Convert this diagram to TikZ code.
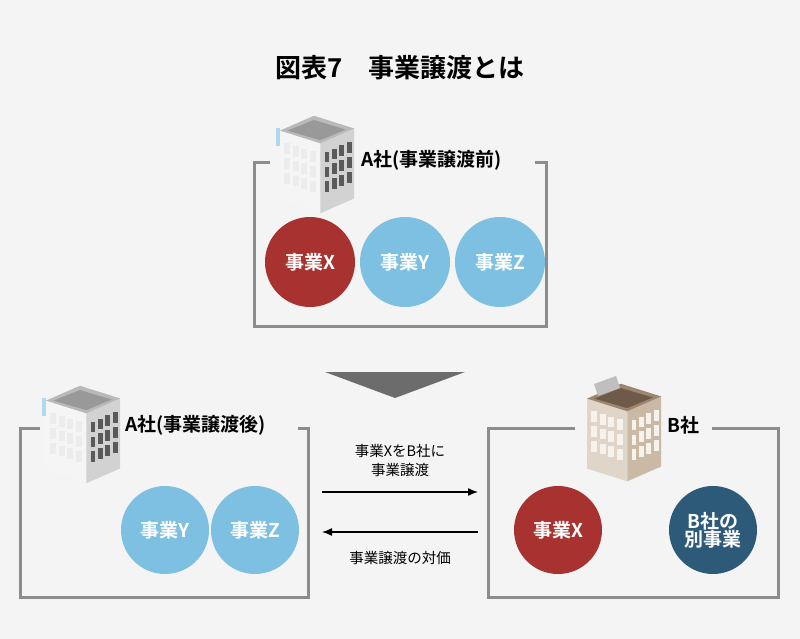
\documentclass[tikz,border=0pt]{standalone}
\usepackage{fontspec}
\setmainfont{Noto Sans CJK JP}[BoldFont={Noto Sans CJK JP Bold}]
\usetikzlibrary{arrows.meta}
\definecolor{bg}{HTML}{F4F4F4}
\definecolor{frame}{HTML}{8C8C8C}
\definecolor{red1}{HTML}{A8322F}
\definecolor{blue1}{HTML}{7DC0E2}
\definecolor{navy}{HTML}{2E5A7A}
\definecolor{tan1}{HTML}{C9B9A5}
\definecolor{tan2}{HTML}{9C8670}
\definecolor{tan3}{HTML}{6E5A48}
\definecolor{winA}{HTML}{5A5A5A}
\definecolor{winB}{HTML}{F6F2EC}
\begin{document}
\begin{tikzpicture}[x=1pt,y=-1pt,
  circ/.style={circle,minimum size=90pt,inner sep=0pt,text=white,font=\bfseries\fontsize{19}{21}\selectfont,align=center},
  fr/.style={draw=frame,line width=3pt},
  lbl/.style={font=\bfseries\fontsize{19}{22}\selectfont,anchor=west},
  small/.style={font=\fontsize{14.5}{19}\selectfont,align=center},
  arr/.style={-{Latex[length=10pt,width=8pt]},line width=1.4pt}]
\fill[bg] (0,0) rectangle (800,639);
\useasboundingbox (0,0) rectangle (800,639);
\node[font=\bfseries\fontsize{26}{30}\selectfont] (title) at (400,68) {図表7\quad 事業譲渡とは};
% building macro: x y leftface rightface top roofinner rightwindows leftwindows
\def\bldg#1#2#3#4#5#6#7#8{%
\begin{scope}[shift={(#1,#2)},scale=1.06]
 \fill[#3] (0,10) -- (38,22) -- (38,88) -- (0,76) -- cycle;
 \fill[#4] (38,22) -- (70,8) -- (70,74) -- (38,88) -- cycle;
 \fill[#5] (0,10) -- (32,-4) -- (70,8) -- (38,22) -- cycle;
 \fill[#6] (7,10) -- (32,0) -- (62,9) -- (38,19) -- cycle;
 \foreach \r in {0,1,2}{\foreach \c in {0,1,2,3}{
   \fill[#7] ({42+\c*7},{30+\r*14-\c*3}) rectangle +(4.5,10);
   \fill[#8] ({4+\c*8},{22+\r*14+\c*2.5}) rectangle +(5.5,10);}}
\end{scope}}
% top box
\draw[fr] (270,163) -- (254,163) -- (254,326) -- (546,326) -- (546,163) -- (535,163);
\bldg{280}{120}{white!92!gray}{gray!35}{gray!55}{gray!80}{winA}{gray!15}
\fill[blue1!60] (276,128) rectangle (280,146);
\node[lbl] (a1) at (358,160) {A社(事業譲渡前)};
\node[circ,fill=red1] (x1) at (310,262) {事業X};
\node[circ,fill=blue1] (y1) at (405,262) {事業Y};
\node[circ,fill=blue1] (z1) at (500,262) {事業Z};
% triangle
\fill[gray!85!black] (325,372) -- (465,372) -- (395,398) -- cycle;
% bottom left
\draw[fr] (40,428) -- (20,428) -- (20,597) -- (308,597) -- (308,428) -- (298,428);
\bldg{46}{390}{white!92!gray}{gray!35}{gray!55}{gray!80}{winA}{gray!15}
\fill[blue1!60] (42,398) rectangle (46,416);
\node[lbl] (a2) at (122,425) {A社(事業譲渡後)};
\node[circ,fill=blue1,minimum size=88pt] (y2) at (165,530) {事業Y};
\node[circ,fill=blue1,minimum size=88pt] (z2) at (255,530) {事業Z};
% bottom right
\draw[fr] (575,428) -- (488,428) -- (488,597) -- (778,597) -- (778,428) -- (712,428);
\bldg{587}{388}{tan1!60}{tan1}{tan2}{tan3}{winB}{winB}
\fill[gray!50] (594,384) -- (616,376) -- (620,388) -- (598,396) -- cycle;
\node[lbl] (b) at (664,425) {B社};
\node[circ,fill=red1,minimum size=88pt] (x2) at (558,530) {事業X};
\node[circ,fill=navy,minimum size=88pt] (o) at (713,530) {B社の\\[-3pt]別事業};
% arrows
\coordinate (r1) at (322,492); \coordinate (r2) at (478,492);
\coordinate (l1) at (478,532); \coordinate (l2) at (322,532);
\draw[arr] (r1) -- (r2);
\draw[arr] (l1) -- (l2);
\node[small] (t1) at (400,461) {事業XをB社に\\事業譲渡};
\node[small] (t2) at (400,558) {事業譲渡の対価};
\end{tikzpicture}
\end{document}
